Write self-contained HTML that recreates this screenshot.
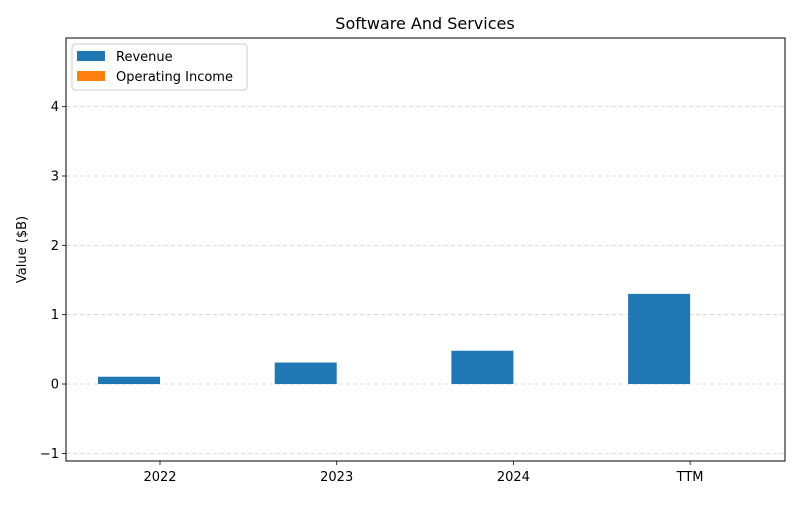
<!DOCTYPE html>
<html><head><meta charset="utf-8"><style>
body{margin:0;background:#fff;font-family:"Liberation Sans","DejaVu Sans",sans-serif;}
</style></head><body>
<svg id="chart" width="800" height="500" xmlns="http://www.w3.org/2000/svg" font-family="DejaVu Sans, Liberation Sans, sans-serif"></svg>
<script>
const categories = ["2022","2023","2024","TTM"];
const revenue = [0.105, 0.31, 0.48, 1.30];
const operatingIncome = [0, 0, 0, 0];
const yTicks = [-1,0,1,2,3,4];
const yMin = -1.11, yMax = 4.99;
const L=66,R=785,T=38,B=461;
const NS="http://www.w3.org/2000/svg";
const svg=document.getElementById('chart');
function y(v){return B-(v-yMin)/(yMax-yMin)*(B-T);}
const step=(R-L)/(categories.length-0.3+0.0); // placeholder
function xc(i){return 160+i*176.7;}
const bw=62;
function el(tag,attrs,parent){const e=document.createElementNS(NS,tag);for(const k in attrs)e.setAttribute(k,attrs[k]);(parent||svg).appendChild(e);return e;}
const title=el('text',{x:425,y:29,'text-anchor':'middle','font-size':16,fill:'#000'});


title.textContent='Software And Services';
const grid=el('g',{});


yTicks.forEach(t=>{
  el('line',{x1:L,x2:R,y1:y(t),y2:y(t),stroke:'#ccc','stroke-width':0.8,'stroke-dasharray':'4,3'},grid);
  const tk=el('line',{x1:L-4,x2:L,y1:y(t),y2:y(t),stroke:'#000','stroke-width':0.8});
  
  
  const lb=el('text',{x:L-7,y:y(t)+4.5,'text-anchor':'end','font-size':13});
  
  
  lb.textContent=t<0?'\u2212'+Math.abs(t):t;
});
categories.forEach((c,i)=>{
  const r=el('rect',{x:xc(i)-bw,y:Math.min(y(revenue[i]),y(0)),width:bw,height:Math.abs(y(0)-y(revenue[i])),fill:'#1f77b4'});
  
  
  const o=el('rect',{x:xc(i),y:Math.min(y(operatingIncome[i]),y(0)),width:bw,height:Math.abs(y(0)-y(operatingIncome[i])),fill:'#ff7f0e'});
  
  
  const tk=el('line',{x1:xc(i),x2:xc(i),y1:B,y2:B+4,stroke:'#000','stroke-width':0.8});
  
  
  const lb=el('text',{x:xc(i),y:B+20,'text-anchor':'middle','font-size':13});
  
  
  lb.textContent=c;
});
const frame=el('rect',{x:L,y:T,width:R-L,height:B-T,fill:'none',stroke:'#000','stroke-width':1});


const yt=el('text',{x:0,y:0,'text-anchor':'middle','font-size':13,transform:'translate(26,'+((T+B)/2)+') rotate(-90)'});


yt.textContent='Value ($B)';
const lg=el('g',{});


el('rect',{x:72,y:44,width:175,height:46,rx:3,fill:'#fff',stroke:'#ccc'},lg);
[['Revenue','#1f77b4'],['Operating Income','#ff7f0e']].forEach((d,i)=>{
  const g=el('g',{},lg);
  
  
  el('rect',{x:77,y:51+i*20,width:28,height:10,fill:d[1]},g);
  const t=el('text',{x:116,y:61+i*20,'font-size':13},g);
  t.textContent=d[0];
});
</script>
</body></html>
